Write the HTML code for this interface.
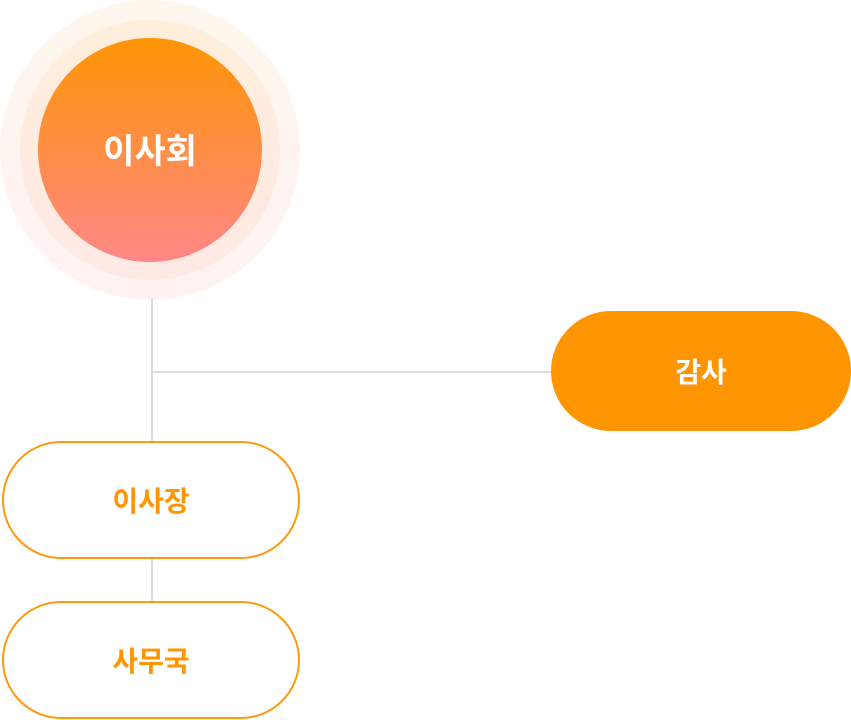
<!DOCTYPE html>
<html><head><meta charset="utf-8"><style>
html,body{margin:0;padding:0;background:#fff;width:851px;height:720px;overflow:hidden;position:relative;font-family:"Liberation Sans","Noto Sans CJK KR",sans-serif;font-weight:bold}
div{position:absolute;box-sizing:border-box}
.c{border-radius:50%}
.p{border-radius:60px;display:flex;align-items:center;justify-content:center;font-size:28px;padding-bottom:0px}
.l{background:#dddddd}
</style></head><body>
<div class="c" style="left:0;top:0;width:300px;height:300px;background:linear-gradient(#fff7ee,#fff3f2)"></div>
<div class="c" style="left:20px;top:20px;width:260px;height:260px;background:linear-gradient(#ffeedb,#ffe9e6)"></div>
<div class="c" style="left:38px;top:38px;width:224px;height:224px;background:linear-gradient(#ff9505,#ff8787);display:flex;align-items:center;justify-content:center;color:#fff;font-size:34px;padding-bottom:4px">이사회</div>
<div class="l" style="left:151px;top:298px;width:2px;height:143px"></div>
<div class="l" style="left:151px;top:371px;width:400px;height:2px"></div>
<div class="l" style="left:151px;top:559px;width:2px;height:42px"></div>
<div class="p" style="left:551px;top:311px;width:300px;height:120px;background:#ff9500;color:#fff">감사</div>
<div class="p" style="left:2px;top:441px;width:298px;height:118px;border:2px solid #ff9a10;color:#ff9500;background:#fff">이사장</div>
<div class="p" style="left:2px;top:601px;width:298px;height:118px;border:2px solid #ff9a10;color:#ff9500;background:#fff">사무국</div>
</body></html>
